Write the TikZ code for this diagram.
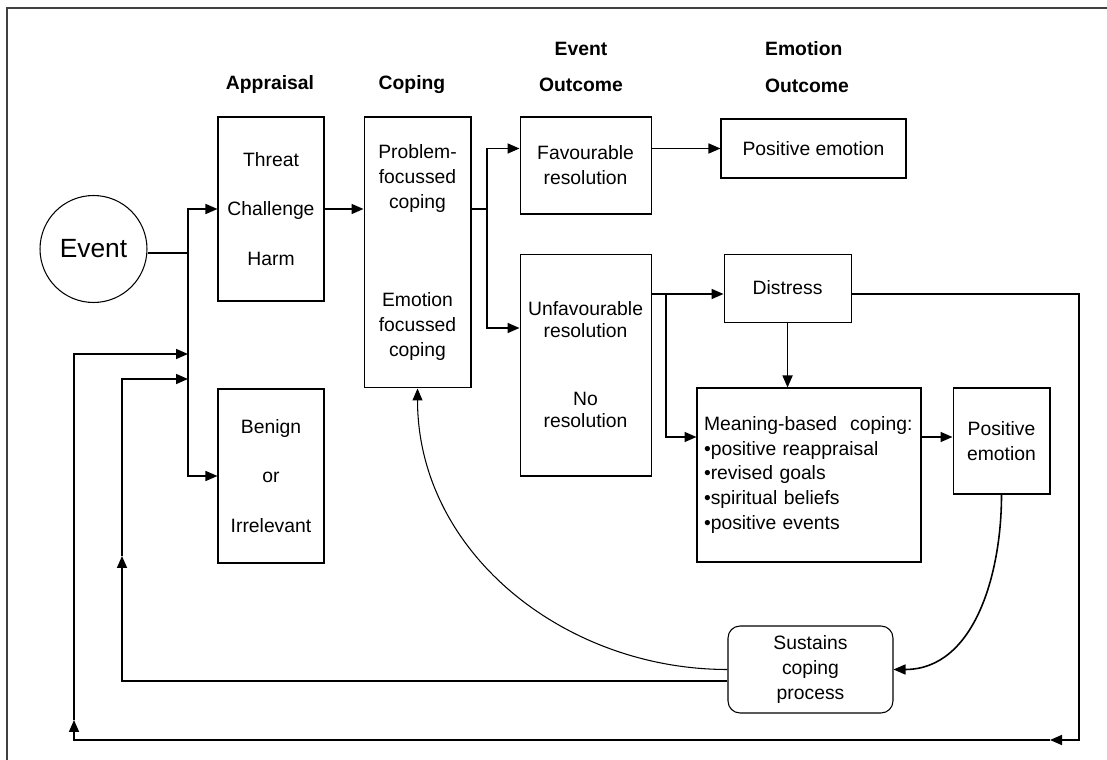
\documentclass[tikz,border=0pt]{standalone}
\usepackage{fontspec}
\setmainfont{Liberation Sans}
\usetikzlibrary{arrows.meta, positioning}

\begin{document}
\begin{tikzpicture}[
  x=0.02cm, y=-0.02cm,
  box/.style={rectangle, draw, line width=0.6pt, align=center, inner sep=2pt,
              font=\fontsize{11}{14.2}\selectfont},
  head/.style={font=\fontsize{11}{21}\selectfont\bfseries, align=center},
  arr/.style={-{Triangle[length=0.24cm, width=0.2cm]}, line width=0.9pt},
  link/.style={line width=0.9pt}
]
\useasboundingbox (0,0) rectangle (1107,760);
\draw[line width=0.8pt, black!75] (7,760) -- (7,8) -- (1107,8);

% column headings
\node[head] (hApp) at (270,85) {Appraisal};
\node[head] (hCop) at (412,85) {Coping};
\node[head] (hEvt) at (581,67) {Event\\Outcome};
\node[head, align=left] (hEmo) at (807,67) {Emotion\\Outcome};

% boxes
\node[circle, draw, line width=0.6pt, minimum size=2.14cm, font=\fontsize{15}{18}\selectfont]
  (event) at (93.5,249) {Event};
\node[box, minimum width=2.12cm, minimum height=3.68cm, font=\fontsize{11}{28}\selectfont]
  (threat) at (271,209) {Threat\\Challenge\\Harm};
\node[box, minimum width=2.12cm, minimum height=3.48cm, font=\fontsize{11}{28}\selectfont,
  below=1.74cm of threat] (benign) {Benign\\or\\Irrelevant};
\node[box, minimum width=2.14cm, minimum height=5.42cm,
  right=0.78cm of threat.north east, anchor=north west] (coping)
  {Problem-\\focussed\\coping\\[1.46cm]Emotion\\focussed\\coping};
\node[box, minimum width=2.62cm, minimum height=1.94cm,
  right=0.96cm of coping.north east, anchor=north west] (fav) {Favourable\\resolution};
\node[box, minimum width=2.62cm, minimum height=4.44cm, font=\fontsize{11}{12.5}\selectfont,
  below=0.78cm of fav] (unfav) {Unfavourable\\resolution\\[0.92cm]No\\resolution};
\node[box, minimum width=3.7cm, minimum height=1.18cm] (pe1) at (813.5,148.5) {Positive emotion};
\node[box, minimum width=2.54cm, minimum height=1.36cm,
  right=1.44cm of unfav.north east, anchor=north west] (distress) {Distress};
\node[box, minimum width=4.48cm, minimum height=3.48cm, inner xsep=0.14cm,
  text width=4.2cm, align=left] (meaning) at (809,475)
  {Meaning-based\ \ coping:\\\textbullet positive reappraisal\\\textbullet revised goals\\
   \textbullet spiritual beliefs\\\textbullet positive events};
\node[box, minimum width=1.94cm, minimum height=2.12cm,
  right=0.62cm of meaning.north east, anchor=north west] (pe2) {Positive\\emotion};
\node[box, rounded corners=0.24cm, minimum width=3.3cm, minimum height=1.74cm]
  (sustains) at (810.5,669.5) {Sustains\\coping\\process};

% junctions
\coordinate (jA) at (188,253);
\coordinate (jC) at (487,209);
\coordinate (jCb) at (487,328);
\coordinate (jU) at (666,294);
\coordinate (jM) at (666,437);
\coordinate (fbIn) at (188,379);
\coordinate (fbMid) at (122,556);
\coordinate (fbLow) at (122,681);
\coordinate (loopR) at (1079,740);
\coordinate (loopB) at (1050,740);
\coordinate (loopL) at (74,740);
\coordinate (loopUp) at (74,720);
\coordinate (loopIn) at (188,354);

% connectors
\draw[link] (event.east |- jA) -- (jA);
\draw[arr] (jA) |- (threat);
\draw[arr] (jA) |- (benign);
\draw[arr] (threat.east) -- (threat.east -| coping.west);
\draw[link] (threat.east -| coping.east) -- (jC);
\draw[arr] (jC) |- (fav.west |- pe1);
\draw[arr] (jC) -- (jCb) -- (jCb -| unfav.west);
\draw[arr] (fav.east |- pe1) -- (pe1);
\draw[arr] (unfav.east |- jU) -- (jU -| distress.west);
\draw[arr] (jU) |- (jM -| meaning.west);
\draw[arr] (distress) -- (distress |- meaning.north);
\draw[arr] (meaning.east |- jM) -- (jM -| pe2.west);
\draw[arr] (pe2.south) to[out=-90, in=0] (sustains.east);
\draw[-{Triangle[length=0.24cm, width=0.2cm]}, line width=0.6pt]
  (sustains.west) to[out=180, in=-90] (coping.south);
\draw[arr] (sustains.west |- fbLow) -| (fbMid);
\draw[arr] (fbMid) |- (fbIn);
\draw[arr] (distress.east |- jU) -| (loopR) -- (loopB);
\draw[arr] (loopB) -| (loopUp);
\draw[arr] (loopUp) |- (loopIn);
\end{tikzpicture}
\end{document}
